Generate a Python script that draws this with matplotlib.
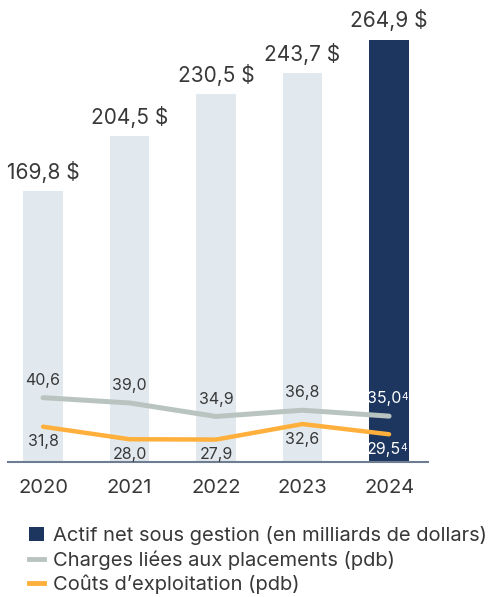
import matplotlib.pyplot as plt
from matplotlib.patches import Patch
from matplotlib.lines import Line2D

plt.rcParams['font.family'] = ['Inter', 'DejaVu Sans']

# Donnees
annees = ['2020', '2021', '2022', '2023', '2024']
actif_net = [169.8, 204.5, 230.5, 243.7, 264.9]
charges_placements = [40.6, 39.0, 34.9, 36.8, 35.0]
couts_exploitation = [31.8, 28.0, 27.9, 32.6, 29.5]
notes = ['', '', '', '', '4']

legend_labels = ['Actif net sous gestion (en milliards de dollars)',
                 'Charges liées aux placements (pdb)',
                 "Coûts d’exploitation (pdb)"]

# Couleurs
BAR_LIGHT = '#E1E9EF'
BAR_DARK = '#1C365F'
GRAY_LINE = '#B9C4C1'
ORANGE = '#FFAF3C'
TEXT = '#383838'
AXIS = '#6E7D92'


def fmt(v):
    return f"{v:.1f}".replace('.', ',')


W, H = 495, 597
fig = plt.figure(figsize=(W / 100, H / 100), dpi=100)

# axes: x de 8 a 428 px, y de 10 a 462 px (depuis le haut)
left, right, top, bottom = 8, 428, 10, 462
ax = fig.add_axes([left / W, 1 - bottom / H, (right - left) / W, (bottom - top) / H])
x = list(range(len(annees)))

colors = [BAR_LIGHT] * (len(annees) - 1) + [BAR_DARK]
ax.bar(x, actif_net, width=0.46, color=colors, zorder=1)
ax.set_ylim(0, 283.4)
ax.set_xlim(-0.405, 4.45)

for xi, v in zip(x, actif_net):
    ax.annotate(f"{fmt(v)} $", (xi, v), xytext=(0, 6), textcoords='offset points',
                ha='center', va='bottom', fontsize=15, color=TEXT)

# axe secondaire pour les lignes (pdb)
ax2 = ax.twinx()
ax2.set_ylim(21.1, 158.1)
ax2.plot(x, charges_placements, color=GRAY_LINE, lw=3.6, solid_capstyle='round', zorder=3)
ax2.plot(x, couts_exploitation, color=ORANGE, lw=3.2, solid_capstyle='round', zorder=3)


def point_label(i, v, dy, c):
    dx = -3.5 if notes[i] else 0
    t = ax2.annotate(fmt(v), (i, v), xytext=(dx, dy), textcoords='offset points',
                     ha='center', va='center', fontsize=11.5, color=c)
    if notes[i]:
        # appel de note en exposant, colle a droite du nombre
        ax2.annotate(notes[i], xy=(1, 1), xycoords=t, xytext=(-0.3, -0.8),
                     textcoords='offset points', ha='left', va='top',
                     fontsize=7.5, color=c)


for i, (g, o) in enumerate(zip(charges_placements, couts_exploitation)):
    c = 'white' if i == len(annees) - 1 else TEXT
    point_label(i, g, 12.5, c)
    point_label(i, o, -11, c)

for a in (ax, ax2):
    for s in ('top', 'right', 'left'):
        a.spines[s].set_visible(False)
    a.set_yticks([])
ax.spines['bottom'].set_color(AXIS)
ax.spines['bottom'].set_linewidth(1.5)
ax2.spines['bottom'].set_visible(False)

ax.set_xticks(x)
ax.set_xticklabels(annees, fontsize=14.5, color=TEXT)
ax.tick_params(axis='x', length=0, pad=12)

handles = [Patch(facecolor=BAR_DARK, edgecolor='none'),
           Line2D([0], [0], color=GRAY_LINE, lw=3.5),
           Line2D([0], [0], color=ORANGE, lw=3.5)]
fig.legend(handles, legend_labels, loc='upper left', bbox_to_anchor=(29 / W, 1 - 526 / H),
           frameon=False, fontsize=14.5, handlelength=0.75, handleheight=0.75,
           handletextpad=0.45, labelspacing=0.26, borderaxespad=0, borderpad=0,
           labelcolor=TEXT)

fig.savefig('out.png', dpi=100)
